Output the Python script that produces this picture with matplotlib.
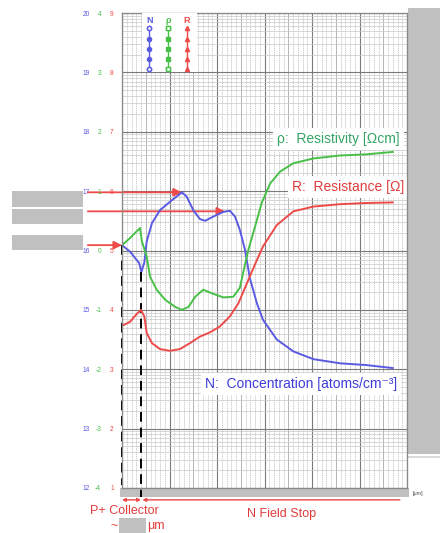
import matplotlib.pyplot as plt
import numpy as np
from matplotlib.patches import Rectangle
from matplotlib.ticker import LogLocator, MultipleLocator, NullFormatter, FuncFormatter

plt.rcParams['font.family'] = ['Liberation Sans', 'DejaVu Sans']

# depth (grid units) and log10 values
N_x = [0.0, 0.17, 0.36, 0.41, 0.47, 0.52, 0.63, 0.80, 1.01, 1.26, 1.36, 1.50, 1.64, 1.75, 1.92,
       2.13, 2.27, 2.38, 2.48, 2.59, 2.69, 2.84, 2.97, 3.26, 3.61, 4.03, 4.59, 5.15, 5.70]
N_log = [16.09, 15.98, 15.79, 15.64, 15.80, 16.15, 16.46, 16.68, 16.82, 16.98, 16.91, 16.68, 16.53, 16.50, 16.57,
         16.65, 16.67, 16.57, 16.35, 16.01, 15.54, 15.11, 14.83, 14.50, 14.30, 14.17, 14.10, 14.07, 14.02]

rho_x = [0.0, 0.17, 0.38, 0.42, 0.52, 0.59, 0.73, 0.91, 1.12, 1.26, 1.40, 1.54, 1.71, 1.89,
         2.13, 2.34, 2.48, 2.55, 2.66, 2.80, 2.94, 3.12, 3.33, 3.61, 4.03, 4.59, 5.15, 5.70]
rho_log = [0.09, 0.21, 0.38, 0.15, -0.10, -0.44, -0.66, -0.83, -0.95, -1.00, -0.95, -0.78, -0.66, -0.72,
           -0.79, -0.78, -0.63, -0.38, 0.01, 0.40, 0.80, 1.13, 1.33, 1.47, 1.55, 1.60, 1.62, 1.66]

R_x = [0.0, 0.17, 0.31, 0.40, 0.47, 0.52, 0.63, 0.80, 1.01, 1.22, 1.43, 1.64, 1.85, 2.06,
       2.27, 2.45, 2.69, 2.84, 2.97, 3.26, 3.61, 4.03, 4.59, 5.15, 5.70]
R_log = [3.73, 3.80, 3.93, 4.00, 3.89, 3.61, 3.44, 3.34, 3.31, 3.34, 3.44, 3.55, 3.62, 3.72,
         3.89, 4.11, 4.56, 4.84, 5.07, 5.43, 5.66, 5.74, 5.78, 5.80, 5.81]

arrow_x = [0.0, 1.26, 2.17]
arrow_log = [16.09, 16.98, 16.66]
collector_edge = 0.40
fieldstop_end = 5.85

blue = '#5a5ae2'
green = '#48c048'
red = '#ee4a4a'
gray = '#c0c0c0'

fig = plt.figure(figsize=(4.4, 5.33), dpi=100)
W, H = 440, 533


def fig_box(x, y, w, h, color=gray):
    fig.patches.append(Rectangle((x / W, 1 - (y + h) / H), w / W, h / H, transform=fig.transFigure,
                                 facecolor=color, edgecolor='none', zorder=-1))


def fig_text(x, y, s, **kw):
    fig.text(x / W, 1 - y / H, s, **kw)


ax = fig.add_axes([122 / W, 1 - 488 / H, 285 / W, 475 / H])
ax.set_xlim(0, 6)
ax.set_yscale('log')
ax.set_ylim(1e12, 1e20)

ax_rho = ax.twinx()
ax_rho.set_yscale('log')
ax_rho.set_ylim(1e-4, 1e4)
ax_R = ax.twinx()
ax_R.set_yscale('log')
ax_R.set_ylim(1e1, 1e9)

expo = FuncFormatter(lambda v, p: '%d' % round(np.log10(v)))
for a, lo, hi, col, pad in [(ax, 12, 20, blue, 23), (ax_rho, -4, 4, green, 15), (ax_R, 1, 9, red, 6)]:
    a.yaxis.set_ticks_position('left')
    a.set_yticks([10.0 ** k for k in range(lo, hi + 1)])
    a.yaxis.set_major_formatter(expo)
    a.yaxis.set_minor_formatter(NullFormatter())
    a.tick_params(axis='y', which='both', length=0, pad=pad, labelcolor=col, labelsize=4.8)
    for s in a.spines.values():
        s.set_color('#8a8a8a')
        s.set_linewidth(0.8)

ax.yaxis.set_minor_locator(LogLocator(base=10, subs=np.arange(2, 10), numticks=100))
ax_rho.yaxis.set_minor_locator(LogLocator(base=10, subs=[], numticks=100))
ax_R.yaxis.set_minor_locator(LogLocator(base=10, subs=[], numticks=100))
ax.set_xticks(range(7))
ax.xaxis.set_minor_locator(MultipleLocator(0.1))
ax.tick_params(axis='x', which='both', length=0, labelbottom=False)

ax.grid(True, which='major', axis='y', color='#7a7a7a', lw=0.8)
ax.grid(True, which='minor', axis='y', color='#c8c8c8', lw=0.5)
ax.grid(True, which='major', axis='x', color='#7a7a7a', lw=0.8)
ax.grid(True, which='minor', axis='x', color='#bdbdbd', lw=0.5, ls=(0, (2, 1)))
for k in range(6):
    ax.axvline(k + 0.5, color='#a5a5a5', lw=0.6, zorder=0.5)

ax.plot(N_x, 10.0 ** np.array(N_log), color=blue, lw=1.4, zorder=5)
ax_rho.plot(rho_x, 10.0 ** np.array(rho_log), color=green, lw=1.4)
ax_R.plot(R_x, 10.0 ** np.array(R_log), color=red, lw=1.4)

# dashed region borders
ax.plot([0, 0], [10.0 ** N_log[0], 10.0 ** 12.05], color='black', lw=1.4, ls=(0, (5, 3)), clip_on=False, zorder=6)
ax.plot([collector_edge, collector_edge], [10.0 ** N_log[3], 10.0 ** 11.85], color='black', lw=1.4,
        ls=(0, (5, 3)), clip_on=False, zorder=6)

# red arrows pointing at peaks
for xa, ya in zip(arrow_x, arrow_log):
    ax.annotate('', xy=(xa, 10.0 ** ya), xytext=(-0.72, 10.0 ** ya), annotation_clip=False,
                arrowprops=dict(arrowstyle='-|>', color=red, lw=1.3, mutation_scale=12, shrinkA=0, shrinkB=0))

# bottom region arrows
ax.annotate('', xy=(0, -0.025), xytext=(collector_edge, -0.025), xycoords=('data', 'axes fraction'),
            textcoords=('data', 'axes fraction'), annotation_clip=False,
            arrowprops=dict(arrowstyle='<|-|>', color=red, lw=1, mutation_scale=5, shrinkA=0, shrinkB=0))
ax.annotate('', xy=(collector_edge + 0.03, -0.025), xytext=(fieldstop_end, -0.025),
            xycoords=('data', 'axes fraction'), textcoords=('data', 'axes fraction'), annotation_clip=False,
            arrowprops=dict(arrowstyle='-|>', color=red, lw=1, mutation_scale=5, shrinkA=0, shrinkB=0))

box = dict(facecolor='white', edgecolor='none', pad=3)
ax.text(0.544, 0.735, 'ρ:  Resistivity [Ωcm]', transform=ax.transAxes, color='#35a565', fontsize=10,
        va='center', ha='left', bbox=box, zorder=4)
ax.text(0.596, 0.634, 'R:  Resistance [Ω]', transform=ax.transAxes, color='#e03c3c', fontsize=10,
        va='center', ha='left', bbox=box, zorder=4)
ax.text(0.291, 0.219, 'N:  Concentration [atoms/cm⁻³]', transform=ax.transAxes, color='#3c3cd8', fontsize=10,
        va='center', ha='left', bbox=box, zorder=4)

# legend box
lg = fig.add_axes([142 / W, 1 - 72 / H, 55 / W, 59 / H])
lg.set_xlim(0, 1)
lg.set_ylim(0, 1)
lg.set_xticks([])
lg.set_yticks([])
for s in lg.spines.values():
    s.set_visible(False)
lg.set_facecolor('white')
mk_y = [0.746, 0.56, 0.39, 0.22, 0.05]
for xl, lab, col, mk in [(0.13, 'N', blue, 'o'), (0.48, 'ρ', green, 's'), (0.82, 'R', red, '^')]:
    lg.plot([xl] * 5, mk_y, color=col, lw=1, marker=mk, ms=3)
    if mk != '^':
        lg.plot([xl, xl], [mk_y[0], mk_y[-1]], ls='none', marker=mk, ms=3, mfc='white', mec=col)
    lg.text(xl, 0.88, lab, color=col, fontsize=6.5, ha='center', va='center', weight='bold')

# gray masks
fig_box(408, 8, 32, 446)
fig_box(408, 456, 32, 2, '#dadada')
fig_box(120, 488, 289, 9)
fig_box(12, 191, 71, 16)
fig_box(12, 209, 71, 15)
fig_box(12, 235, 71, 15)
fig_box(119, 518, 27, 15)

fig_text(413, 493, '[μm]', fontsize=4, color='#555555', ha='left', va='center')
fig_text(124, 511, 'P+ Collector', color='#e03c3c', fontsize=9, ha='center', va='center')
fig_text(282, 514, 'N Field Stop', color='#e03c3c', fontsize=9, ha='center', va='center')
fig_text(118, 526, '~', color='#e03c3c', fontsize=9, ha='right', va='center')
fig_text(147, 526, 'μm', color='#e03c3c', fontsize=9, ha='left', va='center')

fig.savefig('out.png', dpi=100)
